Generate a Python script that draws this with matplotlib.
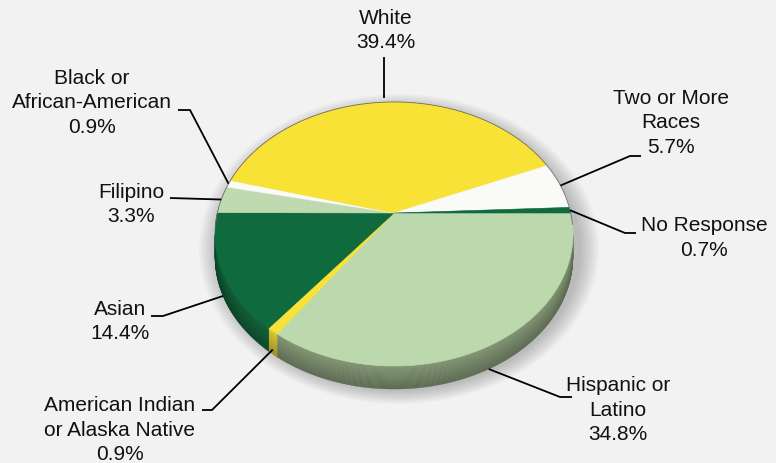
import numpy as np
import matplotlib.pyplot as plt
from matplotlib.patches import Polygon, Ellipse

# data, clockwise from the 3 o'clock position
groups = ["Hispanic or\nLatino", "American Indian\nor Alaska Native", "Asian", "Filipino",
          "Black or\nAfrican-American", "White", "Two or More\nRaces", "No Response"]
shares = [34.8, 0.9, 14.4, 3.3, 0.9, 39.4, 5.7, 0.7]

top_colors = ["#bcd8ad", "#f8e23a", "#0f6a3e", "#bfd9b1", "#fafaf7", "#f8e236", "#fafaf8", "#0f6a3e"]
side_colors = ["#7a8e6c", "#d3be2c", "#0c5a33", "#8fa883", "#cfcfcf", "#c9b52a", "#d5d5d5", "#0b5531"]

# pie geometry in pixels (perspective squashed disk)
CX, CY = 394, 213
RX, RC, S = 176.7, 128.7, 0.159
DEPTH = 23


def project(theta, drop=0.0):
    t = np.radians(theta)
    u, v = np.cos(t), np.sin(t)
    w = 1 + S * v
    return CX + RX * u / w, CY - RC * v / w + drop


def darker(c, f):
    r, g, b = [int(c[i:i + 2], 16) / 255 for i in (1, 3, 5)]
    return (r * f, g * f, b * f)


fig = plt.figure(figsize=(7.76, 4.63), dpi=100)
fig.patch.set_facecolor("#f2f2f2")
ax = fig.add_axes([0, 0, 1, 1])
ax.set_xlim(0, 776)
ax.set_ylim(463, 0)
ax.axis("off")

# soft shadow under the pie
for k in range(10):
    ax.add_patch(Ellipse((CX + 5, CY + 36), 364 + 4 * k, 283 + 3 * k,
                         facecolor="#000000", alpha=0.022, lw=0, zorder=1))

total = sum(shares)
edges = -np.concatenate([[0], np.cumsum(shares)]) / total * 360
front_lo, front_hi = -180 + np.degrees(np.arcsin(S)), -np.degrees(np.arcsin(S))

# side walls (front half only), shaded darker towards the bottom
nb = 24
for i in range(len(shares)):
    a0, a1 = edges[i + 1], edges[i]
    lo, hi = max(a0, front_lo), min(a1, front_hi)
    if lo >= hi:
        continue
    th = np.linspace(lo, hi, 80)
    for k in range(nb):
        d0, d1 = DEPTH * k / nb, DEPTH * (k + 1) / nb
        x0, y0 = project(th, d0)
        x1, y1 = project(th, d1)
        f = 1.05 - 0.3 * k / (nb - 1)
        col = tuple(min(1, c) for c in darker(side_colors[i], f))
        pts = np.column_stack([np.concatenate([x0, x1[::-1]]), np.concatenate([y0, y1[::-1]])])
        ax.add_patch(Polygon(pts, closed=True, facecolor=col,
                             edgecolor=col, lw=0.3, zorder=2))

# top wedges
for i in range(len(shares)):
    th = np.linspace(edges[i], edges[i + 1], max(4, int(abs(edges[i] - edges[i + 1]) * 2)))
    xs, ys = project(th)
    pts = np.column_stack([np.concatenate([[CX], xs]), np.concatenate([[CY], ys])])
    ax.add_patch(Polygon(pts, closed=True, facecolor=top_colors[i],
                         edgecolor=top_colors[i], lw=0.4, zorder=3))

th = np.linspace(-5, 185, 300)
xs, ys = project(th)
ax.plot(xs, ys, color="#6a6a6a", lw=0.6, zorder=4)

# labels: text centre, line path from text towards the pie, drop of the anchor
labels_pos = [
    ((618, 410), [(572, 397), (560, 397)], DEPTH),
    ((120, 430), [(202, 410), (212, 410)], DEPTH * 0.8),
    ((120, 321.5), [(151, 316), (163, 316)], DEPTH),
    ((131, 204.5), [(170, 198)], 0),
    ((92, 103), [(178, 110), (190, 110)], 0),
    ((386, 30.5), [(384, 57)], -4),
    ((671, 123), [(641, 156), (630, 156)], 0),
    ((704, 238), [(636, 233), (625, 233)], 0),
]

mids = (edges[:-1] + edges[1:]) / 2
for i, name in enumerate(groups):
    (tx, tyc), path, drop = labels_pos[i]
    lines = name.split("\n") + ["%.1f%%" % shares[i]]
    sp = 24.5
    y0 = tyc - sp * (len(lines) - 1) / 2
    for j, ln in enumerate(lines):
        ax.text(tx, y0 + j * sp, ln, ha="center", va="center", fontsize=15,
                family="Liberation Sans", color="#111111", zorder=6)
    axp, ayp = project(mids[i], drop)
    if i == 5:
        axp = path[0][0]
    px = [p[0] for p in path] + [axp]
    py = [p[1] for p in path] + [ayp]
    ax.plot(px, py, color="#000000", lw=1.3, zorder=5, solid_capstyle="butt")

fig.savefig("out.png", dpi=100, facecolor=fig.get_facecolor())
